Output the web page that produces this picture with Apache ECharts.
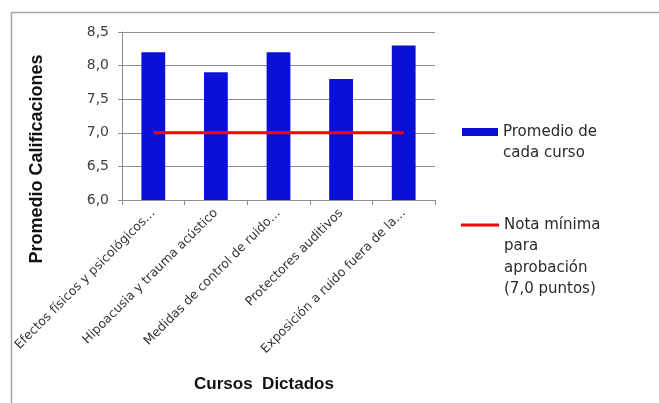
<!DOCTYPE html>
<html>
<head>
<meta charset="utf-8">
<script src="https://cdn.jsdelivr.net/npm/echarts@6/dist/echarts.min.js"></script>
<style>
  html, body { margin: 0; padding: 0; background: #fff; }
  #chart { width: 659px; height: 403px; }
</style>
</head>
<body>
<div id="chart"></div>
<script>
// Course names as labelled on the category axis
const cursos = [
  'Efectos físicos y psicológicos…',
  'Hipoacusia y trauma acústico',
  'Medidas de control de ruido…',
  'Protectores auditivos',
  'Exposición a ruido fuera de la…'
];
// Average grade for each course
const promedios = [8.2, 7.9, 8.2, 7.8, 8.3];
// Minimum passing grade, repeated per course
const notaMinima = [7.0, 7.0, 7.0, 7.0, 7.0];
// Value axis range
const yMin = 6.0, yMax = 8.5, yStep = 0.5;

const serieBarras = 'Promedio de cada curso';
const serieLinea = 'Nota mínima para aprobación (7,0 puntos)';

const SANS = 'DejaVu Sans, Verdana, sans-serif';
const BOLD = 'Liberation Sans, Arial, sans-serif';

const chart = echarts.init(document.getElementById('chart'), null, { renderer: 'canvas' });

const fmtComa = v => v.toFixed(1).replace('.', ',');

// Legend text is centred on its icon; leading blank lines put the first
// real line level with the icon.
const legendText = lines => '\n'.repeat(lines.length - 1) + lines.join('\n');

chart.setOption({
  animation: false,
  backgroundColor: '#fff',
  textStyle: { fontFamily: SANS },
  grid: { left: 122, top: 32, right: 224, bottom: 203, containLabel: false },
  graphic: [
    {
      type: 'rect', silent: true, z: -1,
      shape: { x: 11.5, y: 12.5, width: 800, height: 600 },
      style: { fill: 'none', stroke: '#a6a6a6', lineWidth: 1.5 }
    },
    {
      type: 'text', x: 37, y: 159, rotation: Math.PI / 2,
      style: {
        text: 'Promedio Calificaciones', fill: '#111',
        font: 'bold 18px ' + BOLD,
        align: 'center', verticalAlign: 'middle'
      }
    },
    {
      type: 'text', x: 264, y: 384,
      style: {
        text: 'Cursos  Dictados', fill: '#111',
        font: 'bold 17px ' + BOLD,
        align: 'center', verticalAlign: 'middle'
      }
    }
  ],
  legend: [
    {
      orient: 'vertical', left: 462, top: 100.5, padding: 0,
      itemWidth: 36, itemHeight: 8, itemGap: 0,
      data: [{ name: serieBarras, icon: 'rect' }],
      formatter: () => legendText(['Promedio de', 'cada curso']),
      textStyle: { fontFamily: SANS, fontSize: 15, color: '#2a2a2a', lineHeight: 21 }
    },
    {
      orient: 'vertical', left: 461, top: 149.75, padding: 0,
      itemWidth: 38, itemHeight: 3, itemGap: 0,
      data: [{ name: serieLinea, icon: 'rect' }],
      formatter: () => legendText(['Nota mínima', 'para', 'aprobación', '(7,0 puntos)']),
      textStyle: { fontFamily: SANS, fontSize: 15, color: '#2a2a2a', lineHeight: 21.5 }
    }
  ],
  xAxis: {
    type: 'category',
    data: cursos,
    boundaryGap: true,
    axisLine: { lineStyle: { color: '#8c8c8c', width: 1 } },
    axisTick: { show: true, length: 5, inside: false, lineStyle: { color: '#8c8c8c' } },
    axisLabel: {
      rotate: 45, interval: 0, fontSize: 12.5, color: '#333', margin: 11
    }
  },
  yAxis: {
    type: 'value',
    min: yMin, max: yMax, interval: yStep,
    axisLine: { show: true, lineStyle: { color: '#8c8c8c', width: 1 } },
    axisTick: { show: true, length: 4, lineStyle: { color: '#8c8c8c' } },
    splitLine: { lineStyle: { color: '#8c8c8c', width: 1 } },
    axisLabel: { fontSize: 14, color: '#404040', margin: 13, formatter: fmtComa }
  },
  series: [
    {
      name: serieBarras,
      type: 'bar',
      data: promedios,
      barWidth: '38%',
      itemStyle: { color: '#0b10d6' },
      z: 2
    },
    {
      name: serieLinea,
      type: 'line',
      data: notaMinima,
      symbol: 'none',
      lineStyle: { color: '#ff0000', width: 3 },
      itemStyle: { color: '#ff0000' },
      z: 3
    }
  ]
});
</script>
</body>
</html>
